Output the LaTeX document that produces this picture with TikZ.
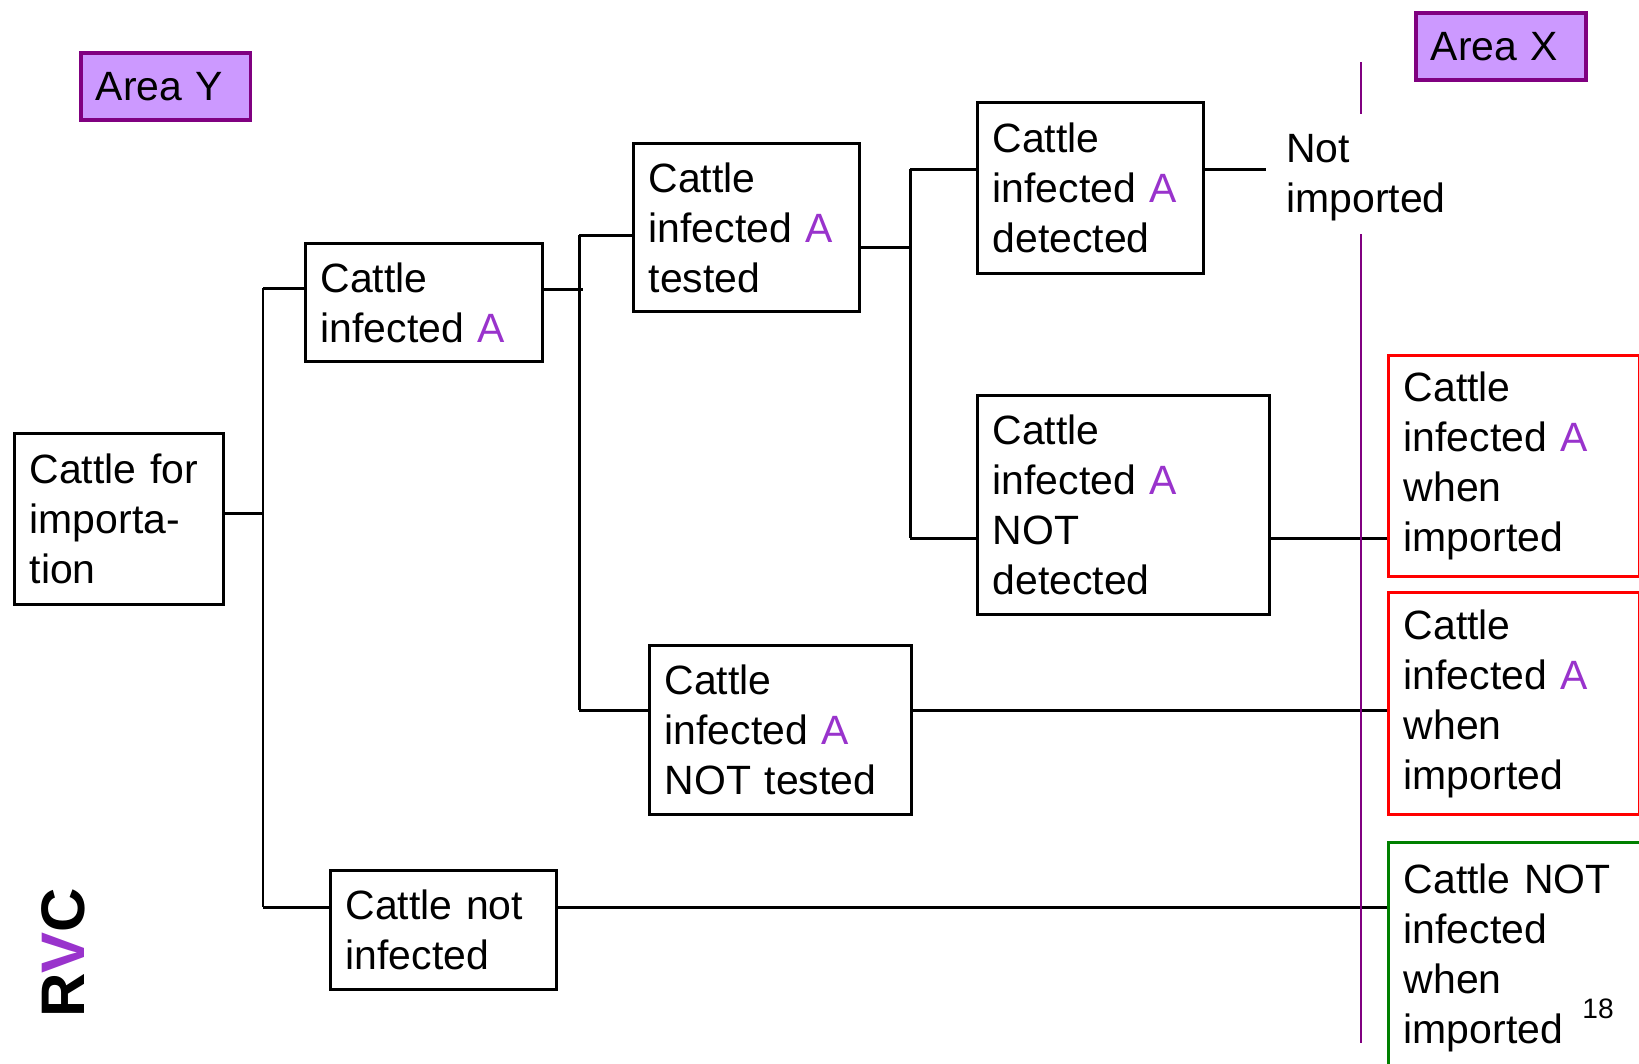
\documentclass[tikz,border=0pt]{standalone}
\usepackage{fontspec}
\setmainfont{Liberation Sans}

\definecolor{areafill}{HTML}{CC99FF}
\definecolor{areadraw}{HTML}{800080}
\definecolor{apurple}{HTML}{9933CC}
\definecolor{redbox}{HTML}{FF0000}
\definecolor{greenbox}{HTML}{008000}

\tikzset{
  cbox/.style={draw, line width=1.9pt, anchor=north west, align=left,
    inner xsep=0.3cm, inner ysep=0pt,
    font=\fontsize{23.3}{28.45}\selectfont},
  area/.style={cbox, draw=areadraw, fill=areafill, line width=2pt},
  link/.style={line width=1.7pt},
  divider/.style={draw=areadraw, line width=1.5pt}
}

\begin{document}
\begin{tikzpicture}[x=0.02cm, y=-0.02cm]
            \useasboundingbox (0,0) rectangle (1639,1063);
            \fill[white] (0,0) rectangle (1639,1063);
            \clip (0,0) rectangle (1639,1063);

            % Area labels
            \node[area, text width=2.8cm, minimum height=1.34cm] (areaY) at (79,51) {Area Y};
            \node[area, text width=2.8cm, minimum height=1.34cm] (areaX) at (1414,11) {Area X};

            % Tree boxes
            \node[cbox, text width=3.58cm, minimum height=3.42cm] (src) at (13,432) {Cattle for\\importa-\\tion};
            \node[cbox, text width=4.14cm, minimum height=2.36cm] (infA) at (304,242) {Cattle\\infected \textcolor{apurple}{A}};
            \node[cbox, text width=3.92cm, minimum height=2.38cm] (notinf) at (329,869) {Cattle not\\infected};
            \node[cbox, text width=3.92cm, minimum height=3.36cm] (tested) at (632,142) {Cattle\\infected \textcolor{apurple}{A}\\tested};
            \node[cbox, text width=4.64cm, minimum height=3.38cm] (nottested) at (648,644) {Cattle\\infected \textcolor{apurple}{A}\\NOT tested};
            \node[cbox, text width=3.92cm, minimum height=3.42cm] (detected) at (976,101) {Cattle\\infected \textcolor{apurple}{A}\\detected};
            \node[cbox, text width=5.24cm, minimum height=4.38cm] (notdet) at (976,394) {Cattle\\infected \textcolor{apurple}{A}\\NOT\\detected};
            \node[anchor=north west, inner sep=0pt, align=left, font=\fontsize{23.3}{28.45}\selectfont] (notimp) at (1286,134) {Not\\imported};

            % Outcomes in area X
            \node[cbox, draw=redbox, text width=4.42cm, minimum height=4.42cm] (red1) at (1387,354) {Cattle\\infected \textcolor{apurple}{A}\\when\\imported};
            \node[cbox, draw=redbox, text width=4.42cm, minimum height=4.44cm] (red2) at (1387,591) {Cattle\\infected \textcolor{apurple}{A}\\when\\imported};
            \node[cbox, draw=greenbox, text width=5.0cm, minimum height=4.62cm] (green) at (1387,841) {Cattle NOT\\infected\\when\\imported};

            % Branch points
            \coordinate (b1top) at (263,288);
            \coordinate (b1mid) at (263,513);
            \coordinate (b1bot) at (263,907);
            \coordinate (b2top) at (579,235);
            \coordinate (b2mid) at (583,289);
            \coordinate (b2bot) at (579,710);
            \coordinate (b3top) at (910,169);
            \coordinate (b3mid) at (910,247);
            \coordinate (b3bot) at (910,538);
            \coordinate (niend) at (1266,169);

            % Connectors
            \draw[link] (b1top) -- (b1bot);
            \draw[link] (b2top) -- (b2bot);
            \draw[link] (b3top) -- (b3bot);
            \draw[link] (src.east |- b1mid) -- (b1mid);
            \draw[link] (infA.east |- b2mid) -- (b2mid);
            \draw[link] (tested.east |- b3mid) -- (b3mid);
            \foreach \b/\n in {b1top/infA, b1bot/notinf, b2top/tested, b2bot/nottested, b3top/detected, b3bot/notdet} {
                \draw[link] (\b) -- (\b -| \n.west);
            }
            \draw[link] (detected.east |- niend) -- (niend);
            \draw[link] (notdet.east |- b3bot) -- (red1.west |- b3bot);
            \draw[link] (nottested.east |- b2bot) -- (red2.west |- b2bot);
            \draw[link] (notinf.east |- b1bot) -- (green.west |- b1bot);

            % Border between the areas
            \coordinate (d1) at (1361,62);
            \coordinate (d2) at (1361,114);
            \coordinate (d3) at (1361,234);
            \coordinate (d4) at (1361,1043);
            \draw[divider] (d1) -- (d2);
            \draw[divider] (d3) -- (d4);

            % Logo and page number
            \node[rotate=90, inner sep=0pt, font=\fontsize{35}{35}\selectfont\bfseries] (rvc) at (63,953) {R\textcolor{apurple}{V}C};
            \node[anchor=base west, inner sep=0pt, font=\fontsize{16}{16}\selectfont] (pagenum) at (1582,1018) {18};
        \end{tikzpicture}
\end{document}
